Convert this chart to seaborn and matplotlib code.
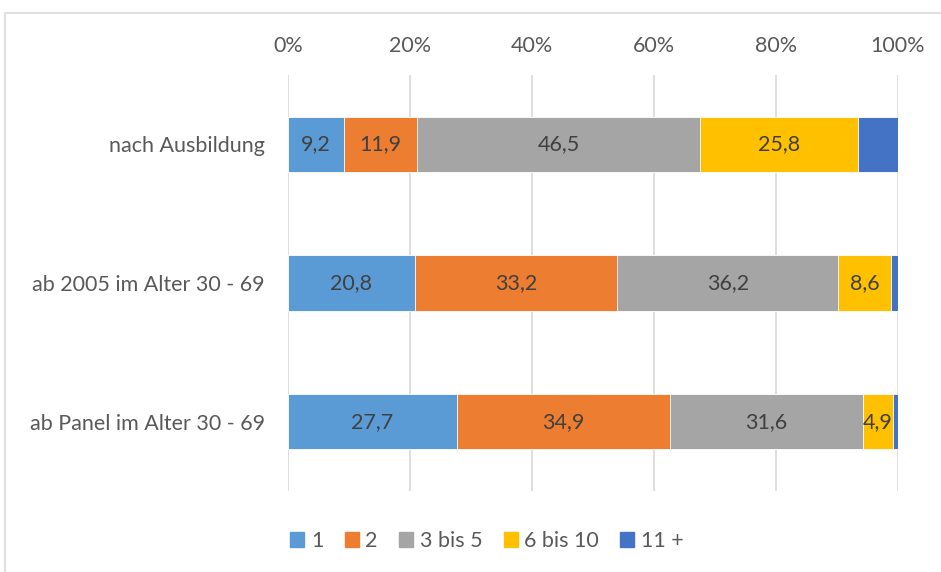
import matplotlib
matplotlib.use("Agg")
import matplotlib.pyplot as plt
import seaborn as sns
import numpy as np
import pandas as pd
from matplotlib.patches import Rectangle

categories = ["nach Ausbildung", "ab 2005 im Alter 30 - 69", "ab Panel im Alter 30 - 69"]
series_names = ["1", "2", "3 bis 5", "6 bis 10", "11 +"]
s1 = [9.2, 20.8, 27.7]
s2 = [11.9, 33.2, 34.9]
s3 = [46.5, 36.2, 31.6]
s4 = [25.8, 8.6, 4.9]
s5 = [6.6, 1.2, 0.9]
colors = ["#5B9BD5", "#ED7D31", "#A5A5A5", "#FFC000", "#4472C4"]
tick_vals = [0, 20, 40, 60, 80, 100]
tick_labels = ["0%", "20%", "40%", "60%", "80%", "100%"]

sns.set_theme(style="white")
plt.rcParams['font.family'] = ['Lato', 'DejaVu Sans']

FS = 15.5

series = [s1, s2, s3, s4, s5]
vals = np.array(series)
cum = np.cumsum(vals, axis=0)

fig = plt.figure(figsize=(9.41, 5.72), dpi=100)
ax = fig.add_axes([288/941, 1-491/572, 610/941, 416/572])

# border
fig.patches.append(Rectangle((5/941, -0.1), 1.1, 1 - 13/572 + 0.1, transform=fig.transFigure,
                             fill=False, edgecolor="#D9D9D9", linewidth=1.2))

for i in range(len(series) - 1, -1, -1):
    df = pd.DataFrame({"cat": categories, "val": cum[i]})
    sns.barplot(data=df, x="val", y="cat", orient="h", color=colors[i], width=0.4,
                edgecolor="white", linewidth=0.6, ax=ax, zorder=3, saturation=1)

for i in range(4):
    for j, c in enumerate(categories):
        center = cum[i][j] - vals[i][j] / 2
        ax.text(center, j, f"{vals[i][j]:.1f}".replace(".", ","), ha="center", va="center",
                fontsize=FS, color="#404040", zorder=5)

ax.set_xlim(0, 100)
ax.set_ylim(2.5, -0.5)
ax.set_xticks(tick_vals)
ax.set_xticklabels(tick_labels)
ax.xaxis.tick_top()
ax.tick_params(axis="x", length=0, pad=14, labelsize=FS, labelcolor="#595959")
ax.tick_params(axis="y", length=0, pad=16.5, labelsize=FS, labelcolor="#595959")
ax.set_xlabel("")
ax.set_ylabel("")
ax.grid(axis="x", color="#D9D9D9", linewidth=1.2, zorder=0)
for sp in ax.spines.values():
    sp.set_visible(False)

handles = [Rectangle((0, 0), 1, 1, color=c) for c in colors]
fig.legend(handles, series_names, loc="center", bbox_to_anchor=(487/941, 1-541/572), ncol=5,
           frameon=False, fontsize=FS, labelcolor="#595959", handlelength=0.65, handleheight=0.65,
           handletextpad=0.3, columnspacing=1.0)

fig.savefig("out.png", dpi=100)
